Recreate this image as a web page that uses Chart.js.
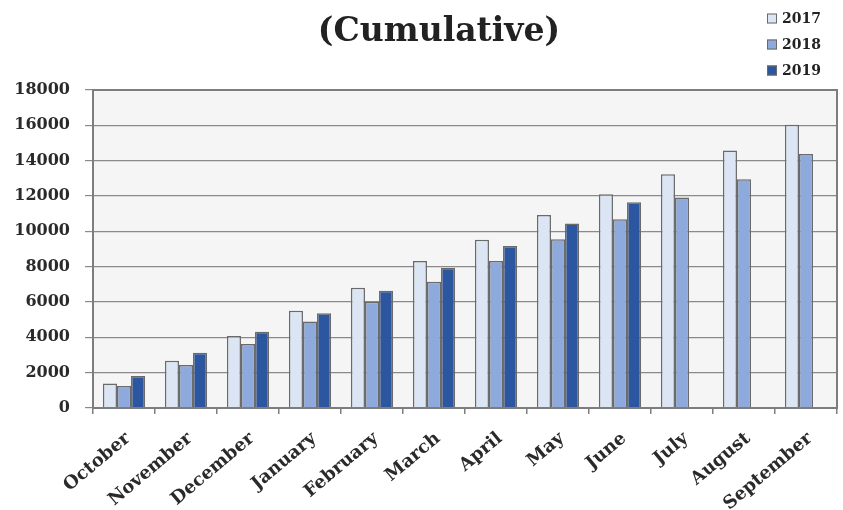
<!DOCTYPE html>
<html>
<head>
<meta charset="utf-8">
<script src="https://cdn.jsdelivr.net/npm/chart.js@4"></script>
<style>
  html, body { margin: 0; padding: 0; background: #ffffff; }
  #wrap { width: 843px; height: 510px; }
</style>
</head>
<body>
<div id="wrap"><canvas id="c" width="843" height="510"></canvas></div>
<script>
// Cumulative monthly totals, fiscal year October–September
const months = ['October', 'November', 'December', 'January', 'February', 'March',
                'April', 'May', 'June', 'July', 'August', 'September'];
const years = ['2017', '2018', '2019'];
const values2017 = [1380, 2680, 4080, 5510, 6810, 8320, 9520, 10930, 12100, 13230, 14570, 16030];
const values2018 = [1240, 2430, 3620, 4890, 6020, 7150, 8320, 9550, 10680, 11920, 12950, 14380];
const values2019 = [1810, 3130, 4320, 5360, 6640, 7940, 9170, 10450, 11640, null, null, null];
const yTicks = [0, 2000, 4000, 6000, 8000, 10000, 12000, 14000, 16000, 18000];
const titleText = '(Cumulative)';

const fills = ['#dbe5f4', '#8eaadc', '#2d56a0'];
const edge = '#6a6a6a';
const serif = '"DejaVu Serif", serif';

// Shaded plot area, frame, title and the stacked legend in the top-right corner
const decor = {
  id: 'decor',
  beforeDraw(chart) {
    const { ctx, chartArea: a } = chart;
    ctx.save();
    ctx.fillStyle = '#f5f5f5';
    ctx.fillRect(a.left, a.top, a.right - a.left, a.bottom - a.top);
    ctx.restore();
  },
  afterDraw(chart) {
    const { ctx, chartArea: a } = chart;
    ctx.save();
    ctx.strokeStyle = '#7d7d7d';
    ctx.lineWidth = 2;
    ctx.strokeRect(a.left, a.top, a.right - a.left, a.bottom - a.top);

    ctx.fillStyle = '#222222';
    ctx.font = 'bold 33px ' + serif;
    ctx.textAlign = 'center';
    ctx.textBaseline = 'middle';
    ctx.fillText(titleText, 439, 32);

    ctx.font = 'bold 14px ' + serif;
    ctx.textAlign = 'left';
    chart.data.datasets.forEach((ds, i) => {
      const cy = 18.5 + i * 26;
      ctx.fillStyle = ds.backgroundColor;
      ctx.fillRect(767, cy - 5, 10, 10);
      ctx.strokeStyle = edge;
      ctx.lineWidth = 1;
      ctx.strokeRect(767.5, cy - 4.5, 9, 9);
      ctx.fillStyle = '#222222';
      ctx.fillText(ds.label, 782, cy + 1);
    });
    ctx.restore();
  }
};

const series = [values2017, values2018, values2019];

new Chart(document.getElementById('c'), {
  type: 'bar',
  data: {
    labels: months,
    datasets: years.map((y, i) => ({
      label: y,
      data: series[i],
      backgroundColor: fills[i],
      borderColor: edge,
      borderWidth: 1.5,
      categoryPercentage: 0.68,
      barPercentage: 1.0
    }))
  },
  options: {
    responsive: false,
    animation: false,
    devicePixelRatio: 1,
    layout: { padding: { top: 90, right: 6, left: 0, bottom: 0 } },
    plugins: {
      legend: { display: false },
      title: { display: false },
      tooltip: { enabled: false }
    },
    scales: {
      x: {
        offset: true,
        grid: {
          offset: true,
          drawOnChartArea: false,
          drawTicks: true,
          tickLength: 6,
          color: '#7d7d7d',
          lineWidth: 1.5
        },
        border: { display: true, color: '#7d7d7d', width: 2 },
        ticks: {
          minRotation: 40,
          maxRotation: 40,
          padding: 14,
          labelOffset: 4,
          color: '#2a2a2a',
          font: { family: serif, size: 18, weight: 'bold' }
        },
        afterFit(scale) { scale.height = 102; }
      },
      y: {
        min: 0,
        max: 18000,
        afterBuildTicks(scale) { scale.ticks = yTicks.map(v => ({ value: v })); },
        grid: {
          color: '#8a8a8a',
          lineWidth: 1.2,
          drawTicks: true,
          tickLength: 8
        },
        border: { display: true, color: '#7d7d7d', width: 2 },
        ticks: {
          padding: 15,
          color: '#2a2a2a',
          font: { family: serif, size: 16, weight: 'bold' },
          callback: (v) => String(v)
        },
        afterFit(scale) { scale.width = 93; }
      }
    }
  },
  plugins: [decor]
});
</script>
</body>
</html>
